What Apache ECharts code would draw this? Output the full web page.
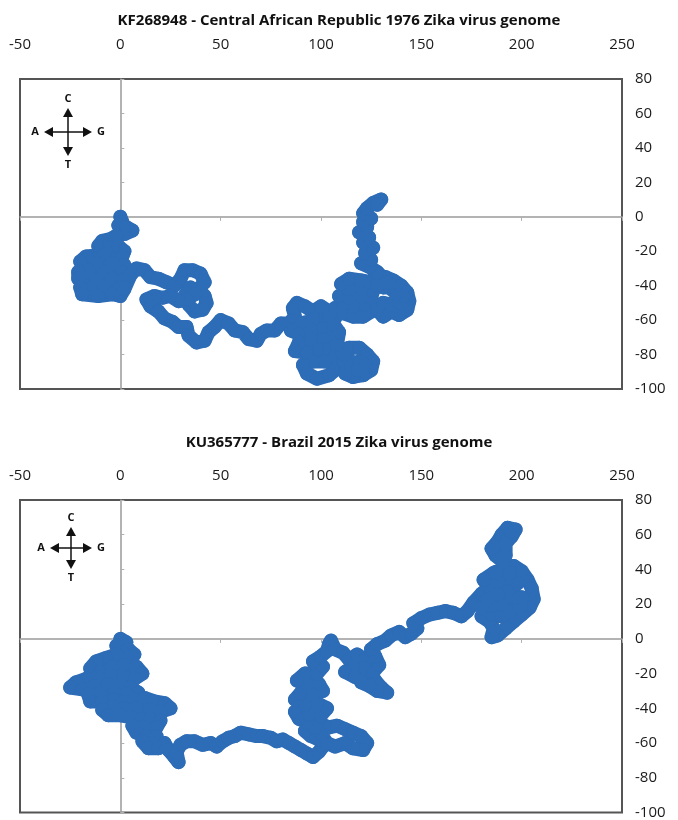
<!DOCTYPE html>
<html>
<head>
<meta charset="utf-8">
<script src="https://cdn.jsdelivr.net/npm/echarts@6/dist/echarts.min.js"></script>
<style>
  html, body { margin: 0; padding: 0; background: #fff; }
  #chart { width: 678px; height: 820px; }
</style>
</head>
<body>
<div id="chart"></div>
<script>
// DNA walk: [x, y] (G/A steps on x, C/T steps on y)
var walk1976 = [
  [0,0],[1,-3],[-1,-5],[3,-6],[6,-8],[2,-10],[-2,-11],[-5,-13],[-9,-14],[-11,-17],[-6,-18],[-1,-17],[2,-20],
  [1,-23],[-8,-22],[-17,-23],[-20,-26],[-12,-27],[-4,-27],[2,-28],[1,-32],[-8,-32],[-16,-31],[-21,-32],
  [-21,-36],[-12,-37],[-4,-36],[1,-37],[0,-41],[-8,-41],[-15,-42],[-20,-41],[-19,-45],[-11,-46],[-4,-45],[0,-46],[2,-42],
  [5,-34],[8,-30],[12,-31],[15,-35],[19,-36],[23,-38],[27,-40],[30,-36],[32,-31],[36,-31],[40,-33],[42,-38],
  [39,-42],[42,-46],[43,-50],[41,-54],[37,-55],[34,-51],[32,-46],[35,-41],[37,-45],[33,-48],[29,-49],[25,-46],
  [21,-47],[17,-46],[13,-48],[15,-52],[19,-55],[22,-59],[26,-61],[29,-64],[33,-64],[34,-69],[38,-73],[42,-72],
  [44,-67],[47,-64],[50,-60],[54,-62],[57,-66],[61,-67],[64,-71],[68,-72],[70,-68],[73,-66],[77,-66],[80,-62],
  [84,-62],[87,-58],[86,-53],[88,-50],
  [92,-52],[96,-55],[100,-52],[104,-55],[107,-59],[102,-61],[96,-60],[90,-62],[85,-66],[89,-68],[95,-66],
  [101,-65],[106,-66],[107,-71],[101,-71],[95,-72],[89,-73],[87,-78],[93,-79],[99,-77],[104,-77],[107,-81],
  [102,-84],[96,-84],[91,-86],[93,-91],[98,-94],[104,-92],[108,-88],[111,-84],[110,-78],[114,-76],[119,-76],
  [123,-80],[126,-84],[125,-89],[121,-92],[116,-93],[112,-91],[115,-86],[119,-84],[122,-86],[118,-89],
  [112,-80],[108,-74],[109,-67],[106,-62],[104,-57],[107,-53],[111,-56],[116,-58],[121,-58],[125,-55],
  [127,-51],[122,-51],[116,-52],[111,-50],[109,-46],[114,-47],[120,-46],[125,-47],[126,-43],[120,-42],
  [114,-42],[110,-39],[114,-36],[120,-37],[125,-38],[128,-34],
  [132,-35],[136,-37],[140,-40],[143,-44],[144,-49],[143,-54],[139,-57],[135,-55],[131,-58],[128,-54],
  [131,-50],[135,-51],[139,-50],[141,-46],[137,-44],[134,-41],[131,-41],[128,-40],[133,-38],[128,-32],
  [124,-29],[120,-27],[125,-25],[122,-21],[126,-18],[121,-15],[124,-12],[119,-9],[123,-6],[121,-3],
  [125,-1],[121,2],[123,5],[126,8],[130,10],[128,7]
];

var walk2015 = [
  [0,0],[3,-2],[-2,-4],[4,-6],[7,-9],[3,-11],[-2,-9],[-7,-11],[-12,-13],[-15,-17],[-10,-19],[-4,-16],
  [2,-15],[8,-16],[11,-20],[7,-23],[1,-21],[-5,-21],[-11,-22],[-17,-23],[-22,-25],[-25,-28],[-19,-29],
  [-13,-27],[-6,-26],[0,-26],[5,-28],[9,-31],[3,-32],[-3,-31],[-10,-31],[-16,-32],[-15,-36],[-9,-36],
  [-3,-35],[2,-36],[7,-35],[12,-34],[17,-36],[22,-37],[25,-40],[20,-42],[14,-41],[8,-40],[2,-40],[-4,-39],
  [-9,-41],[-6,-44],[0,-44],[5,-45],[10,-46],[15,-46],[20,-47],[18,-51],[12,-51],[6,-50],[8,-54],[13,-56],
  [18,-56],[16,-60],[11,-59],[14,-63],[19,-63],[22,-60],[24,-64],[27,-68],[29,-71],[28,-65],[30,-61],
  [33,-59],[37,-59],[41,-61],[45,-60],[48,-62],[51,-59],[54,-57],[57,-56],[60,-54],[64,-55],[68,-56],
  [71,-56],[75,-57],[78,-59],[81,-58],[84,-60],[87,-62],[90,-64],[93,-66],[96,-68],[99,-65],[101,-62],
  [99,-58],[95,-56],[92,-53],[95,-50],[100,-49],[104,-51],[108,-50],[112,-52],[116,-54],[120,-56],
  [123,-60],[121,-64],[116,-63],[112,-60],[107,-62],[103,-60],[100,-55],[97,-51],[93,-48],[89,-46],
  [87,-42],[94,-43],[100,-44],[103,-40],[98,-37],[92,-38],[87,-35],[90,-31],[96,-32],[101,-30],[99,-26],
  [93,-26],[88,-24],[92,-20],[98,-20],[101,-16],[96,-13],[100,-10],[103,-7],[104,-3],[105,-1],
  [107,-6],[111,-8],[114,-12],[118,-9],[122,-12],[126,-14],[122,-17],[116,-16],[112,-19],[117,-22],
  [123,-21],[127,-24],[130,-28],[133,-31],[128,-30],[124,-27],[120,-25],[126,-19],[129,-15],[127,-10],
  [125,-6],[128,-3],[132,-1],[135,2],[139,4],[142,1],[145,3],[148,6],[146,9],[150,12],[154,14],
  [158,15],[162,16],[166,15],[170,13],[173,16],[176,21],[180,26],[184,30],[181,34],[186,38],[191,41],
  [196,42],[200,39],[203,34],[205,29],[206,23],[204,18],[200,14],[196,10],[192,6],[188,2],[185,1],
  [186,6],[184,10],[180,13],[185,14],[190,13],[194,16],[199,19],[200,24],[195,24],[190,20],[185,19],
  [180,18],[183,23],[188,26],[194,29],[198,32],[193,35],[188,33],[187,38],[194,38],[191,44],[187,48],
  [185,52],[188,56],[190,60],[193,64],[197,63],[195,59],[192,55],[192,48]
];

var titles = [
  'KF268948 - Central African Republic 1976 Zika virus genome',
  'KU365777 - Brazil 2015 Zika virus genome'
];
var xRange = [-50, 250, 50];
var yRange = [-100, 80, 20];
var compassLabels = ['C', 'T', 'A', 'G'];

var blue = '#2d6cb6';
var font = '"Open Sans", "DejaVu Sans", sans-serif';

var chart = echarts.init(document.getElementById('chart'));

function labelAxisX(grid, margin) {
  return {
    type: 'value', gridIndex: grid, position: 'top',
    min: xRange[0], max: xRange[1], interval: xRange[2],
    axisLine: { show: false }, axisTick: { show: false }, splitLine: { show: false },
    axisLabel: { margin: margin, color: '#1a1a1a', fontFamily: font, fontSize: 15 }
  };
}
function zeroAxisX(grid) {
  return {
    type: 'value', gridIndex: grid, position: 'bottom',
    min: xRange[0], max: xRange[1], interval: xRange[2],
    axisLine: { show: true, onZero: true, lineStyle: { color: '#9a9a9a', width: 1.5 } },
    axisTick: { show: true, length: 4, lineStyle: { color: '#b0b0b0' } },
    axisLabel: { show: false }, splitLine: { show: false }
  };
}
function labelAxisY(grid) {
  return {
    type: 'value', gridIndex: grid, position: 'right',
    min: yRange[0], max: yRange[1], interval: yRange[2],
    axisLine: { show: false }, axisTick: { show: false }, splitLine: { show: false },
    axisLabel: { margin: 13, color: '#1a1a1a', fontFamily: font, fontSize: 15 }
  };
}
function zeroAxisY(grid) {
  return {
    type: 'value', gridIndex: grid, position: 'left',
    min: yRange[0], max: yRange[1], interval: yRange[2],
    axisLine: { show: true, onZero: true, lineStyle: { color: '#9a9a9a', width: 1.5 } },
    axisTick: { show: true, inside: true, length: 4, lineStyle: { color: '#b0b0b0' } },
    axisLabel: { show: false }, splitLine: { show: false }
  };
}

function walkSeries(data, xi, yi) {
  return {
    type: 'line', data: data, xAxisIndex: xi, yAxisIndex: yi,
    symbol: 'circle', symbolSize: 14, showAllSymbol: true,
    itemStyle: { color: blue },
    lineStyle: { color: blue, width: 14, join: 'round', cap: 'round' },
    silent: true, z: 3
  };
}

// little C/T/A/G direction key drawn in the corner of each panel
function compass(cx, cy, arm, gap) {
  var c = '#111', head = 5;
  var kids = [
    { type: 'line', shape: { x1: cx - arm, y1: cy, x2: cx + arm, y2: cy }, style: { stroke: c, lineWidth: 1.5 } },
    { type: 'line', shape: { x1: cx, y1: cy - arm, x2: cx, y2: cy + arm }, style: { stroke: c, lineWidth: 1.5 } },
    { type: 'polygon', shape: { points: [[cx, cy - arm - 2], [cx - head, cy - arm + 7], [cx + head, cy - arm + 7]] }, style: { fill: c } },
    { type: 'polygon', shape: { points: [[cx, cy + arm + 2], [cx - head, cy + arm - 7], [cx + head, cy + arm - 7]] }, style: { fill: c } },
    { type: 'polygon', shape: { points: [[cx - arm - 2, cy], [cx - arm + 7, cy - head], [cx - arm + 7, cy + head]] }, style: { fill: c } },
    { type: 'polygon', shape: { points: [[cx + arm + 2, cy], [cx + arm - 7, cy - head], [cx + arm - 7, cy + head]] }, style: { fill: c } }
  ];
  var pos = [[cx, cy - arm - gap], [cx, cy + arm + gap], [cx - arm - gap, cy], [cx + arm + gap, cy]];
  compassLabels.forEach(function(t, i) {
    kids.push({
      type: 'text', x: pos[i][0], y: pos[i][1],
      style: { text: t, fill: c, font: 'bold 11px ' + font, align: 'center', verticalAlign: 'middle' }
    });
  });
  return { type: 'group', children: kids, z: 10 };
}

chart.setOption({
  animation: false,
  backgroundColor: '#fff',
  title: [
    { text: titles[0], left: 'center', top: 8, textStyle: { fontFamily: font, fontWeight: 'bold', fontSize: 15, color: '#111' } },
    { text: titles[1], left: 'center', top: 430, textStyle: { fontFamily: font, fontWeight: 'bold', fontSize: 15, color: '#111' } }
  ],
  grid: [
    { left: 20, right: 56, top: 79, height: 310, show: true, borderColor: '#555', borderWidth: 2 },
    { left: 20, right: 56, top: 500, height: 315, show: true, borderColor: '#555', borderWidth: 2 }
  ],
  xAxis: [labelAxisX(0, 27), zeroAxisX(0), labelAxisX(1, 17), zeroAxisX(1)],
  yAxis: [labelAxisY(0), zeroAxisY(0), labelAxisY(1), zeroAxisY(1)],
  series: [
    walkSeries(walk1976, 0, 0),
    walkSeries(walk2015, 2, 2)
  ],
  graphic: [
    compass(68, 132, 22, 11),
    compass(71, 548, 19, 11)
  ]
});
</script>
</body>
</html>
